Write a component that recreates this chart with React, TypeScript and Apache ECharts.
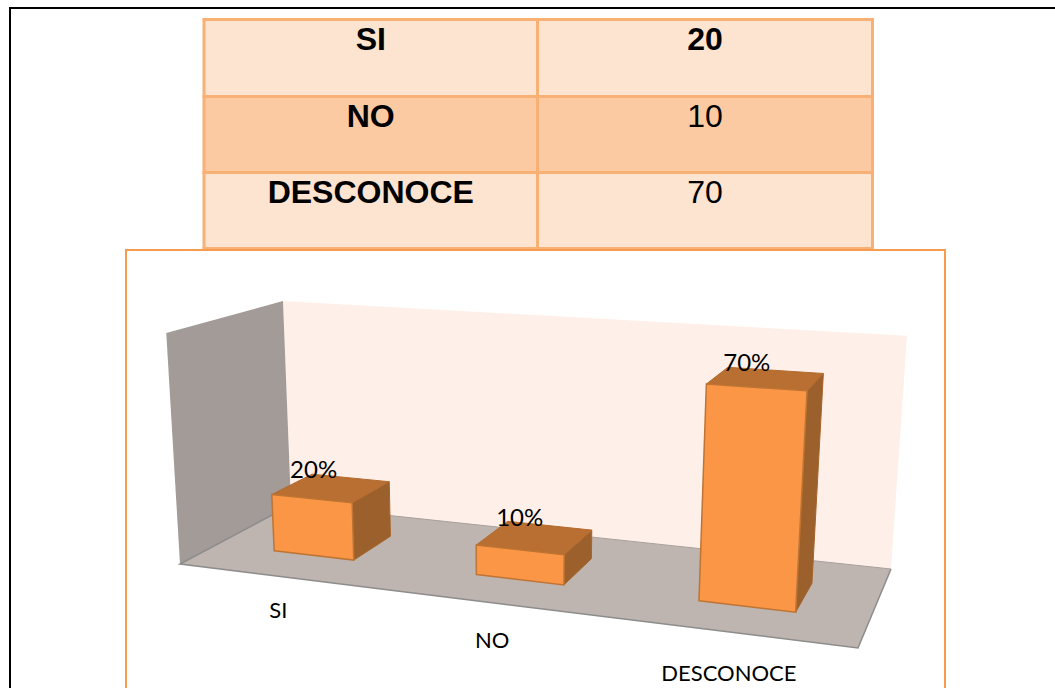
import React, { useEffect, useRef } from "react";
import * as echarts from "echarts";

// Survey answers: one row per answer in the table, one bar per answer in the chart.
const categories = ["SI", "NO", "DESCONOCE"];
const counts = [20, 10, 70];
const countIsBold = [true, false, false];
const percents = [20, 10, 70];
const valueAxisMax = 80;

// Screen corners of the floor: [front-left, front-right, back-right, back-left].
type Pt = [number, number];
const FLOOR: Pt[] = [[180, 564], [858, 648], [891, 569], [291, 505]];

// Height of the axis maximum grows towards the viewer; verticals fan out from a point below the floor.
const WALL_HEIGHT_AT_BACK = 204;
const WALL_HEIGHT_GROWTH = 0.457;
const BACK_Y = 505;
const FAN_CENTER_X = 510;
const FAN_RATE = 0.00018;

const BAR_WIDTH = 0.405; // share of a category slot along the front edge
const BAR_DEPTH: [number, number] = [0.31, 0.69]; // near and far edge of a bar on the floor

const FONT_TABLE = '"Liberation Sans", Arial, sans-serif';
const FONT_CHART = 'Lato, "Noto Sans", sans-serif';

// Projective map from the unit square onto a screen quadrilateral.
function squareToQuad(q: Pt[]) {
  const [[x0, y0], [x1, y1], [x2, y2], [x3, y3]] = q;
  const dx1 = x1 - x2, dx2 = x3 - x2, sx = x0 - x1 + x2 - x3;
  const dy1 = y1 - y2, dy2 = y3 - y2, sy = y0 - y1 + y2 - y3;
  const den = dx1 * dy2 - dx2 * dy1;
  const g = (sx * dy2 - dx2 * sy) / den;
  const h = (dx1 * sy - sx * dy1) / den;
  const a = x1 - x0 + g * x1, b = x3 - x0 + h * x3;
  const d = y1 - y0 + g * y1, e = y3 - y0 + h * y3;
  return (u: number, w: number): Pt => {
    const k = g * u + h * w + 1;
    return [(a * u + b * w + x0) / k, (d * u + e * w + y0) / k];
  };
}
const floorAt = squareToQuad(FLOOR);

// u runs along the category axis, w into the depth, t from the floor to the axis maximum.
function project(u: number, w: number, t: number): Pt {
  const [fx, fy] = floorAt(u, w);
  const rise = (WALL_HEIGHT_AT_BACK + WALL_HEIGHT_GROWTH * (fy - BACK_Y)) * t;
  return [fx + (fx - FAN_CENTER_X) * FAN_RATE * rise, fy - rise];
}

const poly = (points: Pt[], fill: string, stroke?: string, lineWidth = 1.5) => ({
  type: "polygon",
  shape: { points },
  style: { fill, stroke: stroke ?? "none", lineWidth },
});

// Walls and floor behind the bars.
function renderRoom() {
  const wall = poly(
    [project(0, 1, 0), project(1, 1, 0), project(1, 1, 1), project(0, 1, 1)],
    "#FEF0E9"
  );
  const side = poly(
    [project(0, 0, 0), project(0, 1, 0), project(0, 1, 1), project(0, 0, 1)],
    "#A29B97"
  );
  const floor = poly(
    [project(0, 0, 0), project(1, 0, 0), project(1, 1, 0), project(0, 1, 0)],
    "#BEB4B0"
  );
  const edge = {
    type: "polyline",
    shape: { points: [project(0, 1, 0), project(0, 0, 0), project(1, 0, 0), project(1, 1, 0)] },
    style: { fill: "none", stroke: "#8C8C8C", lineWidth: 1.5 },
  };
  const backEdge = {
    type: "line",
    shape: {
      x1: project(0, 1, 0)[0], y1: project(0, 1, 0)[1],
      x2: project(1, 1, 0)[0], y2: project(1, 1, 0)[1],
    },
    style: { stroke: "#A8A09C", lineWidth: 1 },
  };
  return { type: "group", children: [wall, side, floor, backEdge, edge] };
}

// One box per answer, its height taken from the value axis.
function renderBar(params: any, api: any) {
  const grid = params.coordSys;
  const base = api.coord([api.value(0), 0]);
  const top = api.coord([api.value(0), api.value(1)]);
  const t = (base[1] - top[1]) / grid.height;
  const uc = (base[0] - grid.x) / grid.width;
  const half = (api.size([1, 0])[0] / grid.width) * BAR_WIDTH * 0.5;
  const u0 = uc - half, u1 = uc + half;
  const [w0, w1] = BAR_DEPTH;
  const stroke = "#BE7433";

  const foot = project(uc, w0, 0);
  const farTop = project(uc, w1, t);
  const frontEdge = project(uc, 0, 0);

  return {
    type: "group",
    children: [
      poly([project(u1, w0, 0), project(u1, w1, 0), project(u1, w1, t), project(u1, w0, t)], "#9B602B", "#A5652C", 1),
      poly([project(u0, w0, t), project(u1, w0, t), project(u1, w1, t), project(u0, w1, t)], "#B96F31", "#B36B2E", 1),
      poly([project(u0, w0, 0), project(u1, w0, 0), project(u1, w0, t), project(u0, w0, t)], "#FA9646", stroke, 1.5),
      {
        type: "text",
        style: {
          text: `${percents[params.dataIndex]}%`,
          x: foot[0],
          y: farTop[1] - 9,
          align: "center",
          verticalAlign: "middle",
          fill: "#000",
          font: `24px ${FONT_CHART}`,
        },
      },
      {
        type: "text",
        style: {
          text: categories[params.dataIndex],
          x: frontEdge[0] - 1,
          y: frontEdge[1] + 32 + uc * 10,
          align: "center",
          verticalAlign: "middle",
          fill: "#000",
          font: `22px ${FONT_CHART}`,
        },
      },
    ],
  };
}

// Summary table above the chart, plus the two frames around the page content.
function tableGraphics() {
  const xs = [204, 537.5, 872.5];
  const ys = [19.5, 96.5, 172.5, 248.5];
  const border = "#F9B074";
  const items: any[] = [];
  categories.forEach((name, r) => {
    items.push({
      type: "rect",
      z: 1,
      shape: { x: xs[0], y: ys[r], width: xs[2] - xs[0], height: ys[r + 1] - ys[r] },
      style: { fill: r === 1 ? "#FBCAA2" : "#FDE4D0" },
    });
    items.push({
      type: "text",
      z: 3,
      style: {
        text: name,
        x: (xs[0] + xs[1]) / 2,
        y: ys[r] + 19,
        align: "center",
        verticalAlign: "middle",
        fill: "#000",
        font: `bold 32px ${FONT_TABLE}`,
      },
    });
    items.push({
      type: "text",
      z: 3,
      style: {
        text: String(counts[r]),
        x: (xs[1] + xs[2]) / 2,
        y: ys[r] + 19,
        align: "center",
        verticalAlign: "middle",
        fill: "#000",
        font: `${countIsBold[r] ? "bold " : ""}32px ${FONT_TABLE}`,
      },
    });
  });
  const rule = (x1: number, y1: number, x2: number, y2: number, stroke: string, lineWidth: number) => ({
    type: "line",
    z: 2,
    shape: { x1, y1, x2, y2 },
    style: { stroke, lineWidth },
  });
  ys.forEach((y) => items.push(rule(xs[0] - 1.5, y, xs[2] + 1.5, y, border, 3)));
  xs.forEach((x) => items.push(rule(x, ys[0], x, ys[3], border, 3)));
  // frames
  items.push(rule(9, 8, 1055, 8, "#000", 2));
  items.push(rule(10, 7, 10, 688, "#000", 2));
  items.push({
    type: "polyline",
    z: 2,
    shape: { points: [[126, 688], [126, 250], [945, 250], [945, 688]] },
    style: { fill: "none", stroke: "#F79B4F", lineWidth: 2 },
  });
  return items;
}

export default function App() {
  const ref = useRef<HTMLDivElement>(null);
  useEffect(() => {
    const chart = echarts.init(ref.current!, undefined, { renderer: "svg" });
    chart.setOption({
      animation: false,
      backgroundColor: "#fff",
      grid: { left: 0, right: 0, top: 0, bottom: 0 },
      xAxis: { type: "category", data: categories, show: false },
      yAxis: { type: "value", min: 0, max: valueAxisMax, show: false },
      graphic: tableGraphics(),
      series: [
        {
          type: "custom",
          z: 1,
          silent: true,
          clip: false,
          renderItem: renderRoom,
          data: [[0, 0]],
        },
        {
          type: "custom",
          z: 2,
          silent: true,
          clip: false,
          renderItem: renderBar,
          encode: { x: 0, y: 1 },
          data: percents.map((v, i) => [i, v]),
        },
      ],
    });
    return () => chart.dispose();
  }, []);
  return (
    <div
      ref={ref}
      style={{ position: "fixed", left: 0, top: 0, width: 1055, height: 694 }}
    />
  );
}
